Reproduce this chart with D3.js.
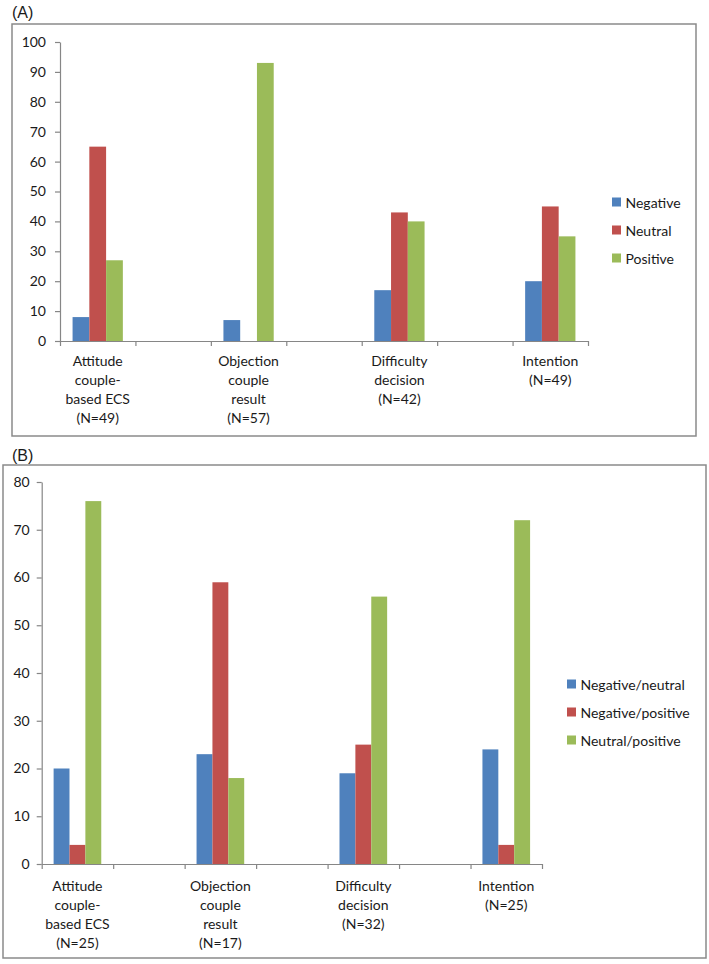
<!DOCTYPE html>
<html>
<head>
<meta charset="utf-8">
<script src="https://cdn.jsdelivr.net/npm/d3@7"></script>
<style>
  html, body { margin: 0; padding: 0; background: #fff; }
  svg { display: block; }
  text { font-family: Lato, "Open Sans", sans-serif; fill: #1a1a1a; }
</style>
</head>
<body>
<svg id="chart" width="709" height="964"></svg>
<script>
// ---------------- DATA ----------------
const labelsA = [
  ["Attitude", "couple-", "based ECS", "(N=49)"],
  ["Objection", "couple", "result", "(N=57)"],
  ["Difficulty", "decision", "(N=42)"],
  ["Intention", "(N=49)"]
];
const seriesA = ["Negative", "Neutral", "Positive"];
const negativeA = [8, 7, 17, 20];
const neutralA  = [65, 0, 43, 45];
const positiveA = [27, 93, 40, 35];
const ticksA = [0, 10, 20, 30, 40, 50, 60, 70, 80, 90, 100];

const labelsB = [
  ["Attitude", "couple-", "based ECS", "(N=25)"],
  ["Objection", "couple", "result", "(N=17)"],
  ["Difficulty", "decision", "(N=32)"],
  ["Intention", "(N=25)"]
];
const seriesB = ["Negative/neutral", "Negative/positive", "Neutral/positive"];
const negNeuB = [20, 23, 19, 24];
const negPosB = [4, 59, 25, 4];
const neuPosB = [76, 18, 56, 72];
const ticksB = [0, 10, 20, 30, 40, 50, 60, 70, 80];

const colors = ["#4F81BD", "#C0504D", "#9BBB59"];

// ---------------- DRAW ----------------
const svg = d3.select("#chart");

function panel(cfg) {
  const g = svg.append("g");
  // frame
  g.append("rect")
    .attr("x", cfg.box[0]).attr("y", cfg.box[1])
    .attr("width", cfg.box[2] - cfg.box[0]).attr("height", cfg.box[3] - cfg.box[1])
    .attr("fill", "#fff").attr("stroke", "#8a8a8a").attr("stroke-width", 1.5);
  // panel tag
  svg.append("text").attr("x", 12).attr("y", cfg.tagY)
    .attr("font-family", "'Liberation Sans', Arial, sans-serif")
    .style("font-family", "'Liberation Sans', Arial, sans-serif")
    .attr("font-size", 16).attr("dominant-baseline", "central")
    .text(cfg.tag);

  const nSlots = cfg.labels.length * 2 - 1;
  const slotIds = d3.range(nSlots);
  const x = d3.scaleBand().domain(slotIds).range([cfg.x0, cfg.x1]).padding(0);
  const xLin = d3.scaleLinear().domain([0, nSlots]).range([cfg.x0, cfg.x1]);
  const y = d3.scaleLinear().domain([0, cfg.yMax]).range([cfg.y0, cfg.yTop]);
  const xSub = d3.scaleBand().domain(cfg.series).range([0, x.bandwidth()])
    .paddingInner(0).paddingOuter(0.75);

  // bars
  const rows = cfg.labels.map((l, i) => ({
    slot: i * 2,
    vals: cfg.series.map((s, j) => ({ s, j, v: cfg.values[j][i] }))
  }));
  const grp = g.selectAll("g.cat").data(rows).join("g")
    .attr("transform", d => `translate(${x(d.slot)},0)`);
  grp.selectAll("rect").data(d => d.vals.filter(v => v.v > 0)).join("rect")
    .attr("x", d => xSub(d.s))
    .attr("width", xSub.bandwidth())
    .attr("y", d => y(d.v))
    .attr("height", d => y(0) - y(d.v))
    .attr("fill", d => colors[d.j]);

  // y axis
  const ya = g.append("g").attr("transform", `translate(${cfg.x0},0)`)
    .call(d3.axisLeft(y).tickValues(cfg.ticks).tickSize(5).tickSizeOuter(0).tickPadding(cfg.tickPad));
  ya.selectAll("path,line").attr("stroke", "#868686").attr("stroke-width", 1.2);
  ya.selectAll("text").attr("font-size", 14).style("font-family", "Lato, sans-serif").attr("fill", "#1a1a1a");

  // x axis
  const xa = g.append("g").attr("transform", `translate(0,${cfg.y0})`)
    .call(d3.axisBottom(xLin).tickValues(d3.range(nSlots + 1)).tickSize(5).tickSizeOuter(0).tickFormat(""));
  xa.selectAll("path,line").attr("stroke", "#868686").attr("stroke-width", 1.2);

  // x labels
  const lab = g.selectAll("text.xl").data(rows).join("text")
    .attr("class", "xl")
    .attr("text-anchor", "middle")
    .attr("font-size", 14)
    .attr("x", d => x(d.slot) + x.bandwidth() / 2)
    .attr("y", cfg.y0 + cfg.labOff);
  lab.selectAll("tspan").data((d, i) => cfg.labels[i]).join("tspan")
    .attr("x", function () { return d3.select(this.parentNode).attr("x"); })
    .attr("dy", (d, i) => i === 0 ? 0 : 19)
    .attr("dominant-baseline", "central")
    .text(d => d);

  // legend
  const leg = g.selectAll("g.leg").data(cfg.series).join("g")
    .attr("transform", (d, i) => `translate(${cfg.legX},${cfg.legY + i * 28})`);
  leg.append("rect").attr("x", 0).attr("y", -4.5).attr("width", 9).attr("height", 9)
    .attr("fill", (d, i) => colors[i]);
  leg.append("text").attr("x", 13.5).attr("y", 0).attr("dominant-baseline", "central")
    .attr("font-size", 14).text(d => d);
}

panel({
  tag: "(A)", tagY: 12,
  box: [12, 24, 696, 436],
  x0: 60, x1: 588, y0: 341, yTop: 42, yMax: 100,
  ticks: ticksA, tickPad: 9, labOff: 19,
  labels: labelsA, series: seriesA,
  values: [negativeA, neutralA, positiveA],
  legX: 612, legY: 202
});

panel({
  tag: "(B)", tagY: 455,
  box: [3, 465, 706, 958],
  x0: 41.7, x1: 542, y0: 864, yTop: 482, yMax: 80,
  ticks: ticksB, tickPad: 7, labOff: 21,
  labels: labelsB, series: seriesB,
  values: [negNeuB, negPosB, neuPosB],
  legX: 567, legY: 684
});
</script>
</body>
</html>
